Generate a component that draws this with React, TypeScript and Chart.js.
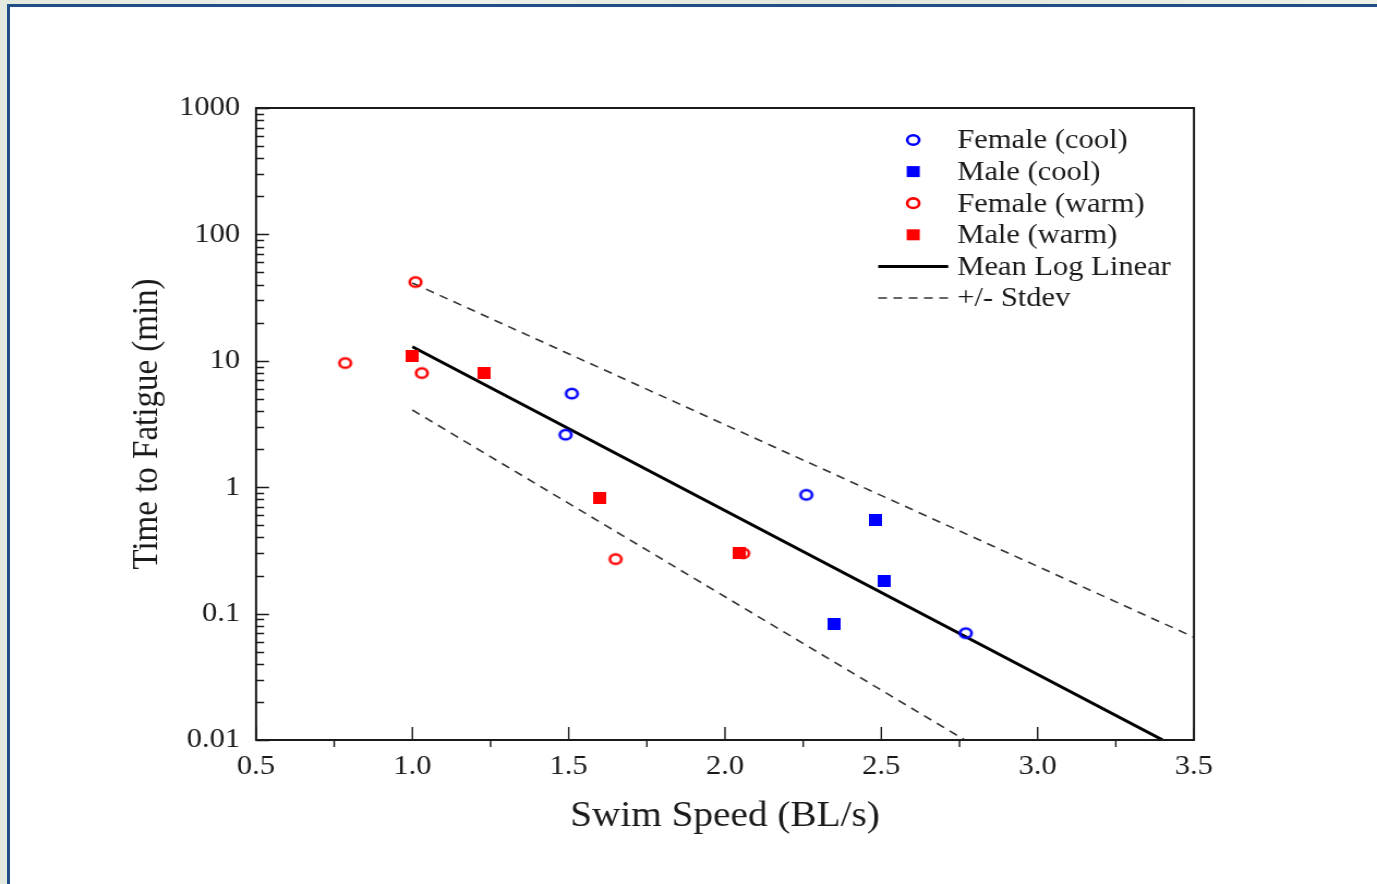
import React, { useEffect, useRef } from "react";
import { Chart, registerables } from "chart.js";

Chart.register(...registerables);

// ---- data ----
const femaleCoolX = [1.51, 1.49, 2.26, 2.77];
const femaleCoolY = [5.5, 2.6, 0.87, 0.07];
const maleCoolX = [2.48, 2.51, 2.35];
const maleCoolY = [0.55, 0.18, 0.083];
const femaleWarmX = [0.785, 1.01, 1.03, 1.65, 2.058];
const femaleWarmY = [9.6, 42, 8.0, 0.27, 0.3];
const maleWarmX = [1.0, 1.23, 1.6, 2.045];
const maleWarmY = [10.9, 8.0, 0.82, 0.3];
const meanLineX = [1.0, 3.4];
const meanLineY = [12.9, 0.01];
const upperLineX = [1.0, 3.5];
const upperLineY = [41.3, 0.065];
const lowerLineX = [1.0, 2.767];
const lowerLineY = [4.08, 0.01];

const seriesLabels = ["Female (cool)", "Male (cool)", "Female (warm)", "Male (warm)", "Mean Log Linear", "+/- Stdev"];

const xTickValues = [0.5, 1.0, 1.5, 2.0, 2.5, 3.0, 3.5];
const xTickLabels = ["0.5", "1.0", "1.5", "2.0", "2.5", "3.0", "3.5"];
const xMinorTicks = [0.75, 1.25, 1.75, 2.25, 2.75, 3.25];
const yTickValues = [0.01, 0.1, 1, 10, 100, 1000];
const yTickLabels = ["0.01", "0.1", "1", "10", "100", "1000"];
const yMinorMultipliers = [2, 3, 4, 5, 6, 7, 8, 9];

const BLUE = "#0000ff";
const RED = "#ff0000";
const FONT = "'Liberation Serif', 'DejaVu Serif', serif";

// the reference figure is slightly stretched horizontally
const STRETCH = 1.09;
const CW = Math.round(1377 / STRETCH);
const CH = 884;
const sx = (px: number) => px / STRETCH;

const zip = (xs: number[], ys: number[]) => xs.map((x, i) => ({ x, y: ys[i] }));

function ring(color: string, rx: number, ry: number, lw: number) {
  const c = document.createElement("canvas");
  c.width = Math.ceil(rx * 2 + lw + 2);
  c.height = Math.ceil(ry * 2 + lw + 2);
  const g = c.getContext("2d")!;
  g.strokeStyle = color;
  g.lineWidth = lw;
  g.beginPath();
  g.ellipse(c.width / 2, c.height / 2, rx, ry, 0, 0, Math.PI * 2);
  g.stroke();
  return c;
}
function block(color: string, w: number, h: number) {
  const c = document.createElement("canvas");
  c.width = w;
  c.height = h;
  const g = c.getContext("2d")!;
  g.fillStyle = color;
  g.fillRect(0, 0, w, h);
  return c;
}

const framePlugin = {
  id: "framePlugin",
  afterDraw(chart: any) {
    const { ctx, chartArea: a, scales } = chart;
    const xs = scales.x;
    const ys = scales.y;
    ctx.save();
    ctx.strokeStyle = "#1a1a1a";
    ctx.lineWidth = 2;
    ctx.strokeRect(a.left, a.top, a.right - a.left, a.bottom - a.top);
    ctx.lineWidth = 1.5;
    ctx.beginPath();
    yTickValues.forEach((v) => {
      const py = Math.round(ys.getPixelForValue(v)) + 0.5;
      ctx.moveTo(a.left, py);
      ctx.lineTo(a.left + sx(13), py);
    });
    yTickValues.slice(0, -1).forEach((d) => {
      yMinorMultipliers.forEach((m) => {
        const py = Math.round(ys.getPixelForValue(d * m)) + 0.5;
        ctx.moveTo(a.left, py);
        ctx.lineTo(a.left + sx(8), py);
      });
    });
    ctx.stroke();
    ctx.lineWidth = 1.4;
    ctx.beginPath();
    xTickValues.forEach((v) => {
      const px = xs.getPixelForValue(v);
      ctx.moveTo(px, a.bottom);
      ctx.lineTo(px, a.bottom - 13);
    });
    xMinorTicks.forEach((v) => {
      const px = xs.getPixelForValue(v);
      ctx.moveTo(px, a.bottom);
      ctx.lineTo(px, a.bottom + 7);
    });
    ctx.stroke();

    // legend
    const rowY0 = 140;
    const rowGap = 31.6;
    const markX = sx(913);
    const textX = sx(957);
    ctx.font = `28px ${FONT}`;
    ctx.textAlign = "left";
    ctx.textBaseline = "middle";
    chart.data.datasets.forEach((ds: any) => {
      if (ds.legendSkip) return;
      const y = rowY0 + ds.legendRow * rowGap;
      if (ds.legendKind === "ring") {
        ctx.strokeStyle = ds.legendColor;
        ctx.lineWidth = 2.6;
        ctx.beginPath();
        ctx.ellipse(markX, y, 5.5, 4.8, 0, 0, Math.PI * 2);
        ctx.stroke();
      } else if (ds.legendKind === "block") {
        ctx.fillStyle = ds.legendColor;
        ctx.fillRect(markX - 6, y - 5.5, 12, 11);
      } else {
        ctx.strokeStyle = ds.borderColor;
        ctx.lineWidth = ds.borderWidth;
        ctx.setLineDash(ds.borderDash || []);
        ctx.beginPath();
        ctx.moveTo(sx(878), y);
        ctx.lineTo(sx(948), y);
        ctx.stroke();
        ctx.setLineDash([]);
      }
      ctx.fillStyle = "#1a1a1a";
      ctx.fillText(ds.label, textX, y + 1);
    });
    ctx.restore();
  },
};

export default function App() {
  const ref = useRef<HTMLCanvasElement | null>(null);

  useEffect(() => {
    if (!ref.current) return;
    const ringBlue = ring(BLUE, 5.3, 4.8, 2.6);
    const ringRed = ring(RED, 5.3, 4.8, 2.6);
    const blockBlue = block(BLUE, 12, 12);
    const blockRed = block(RED, 12, 12);

    const chart = new Chart(ref.current, {
      type: "scatter",
      data: {
        datasets: [
          {
            label: seriesLabels[0],
            data: zip(femaleCoolX, femaleCoolY),
            pointStyle: ringBlue as any,
            legendKind: "ring", legendColor: BLUE, legendRow: 0,
          } as any,
          {
            label: seriesLabels[1],
            data: zip(maleCoolX, maleCoolY),
            pointStyle: blockBlue as any,
            legendKind: "block", legendColor: BLUE, legendRow: 1,
          } as any,
          {
            label: seriesLabels[2],
            data: zip(femaleWarmX, femaleWarmY),
            pointStyle: ringRed as any,
            legendKind: "ring", legendColor: RED, legendRow: 2,
          } as any,
          {
            label: seriesLabels[3],
            data: zip(maleWarmX, maleWarmY),
            pointStyle: blockRed as any,
            legendKind: "block", legendColor: RED, legendRow: 3,
          } as any,
          {
            label: seriesLabels[4],
            data: zip(meanLineX, meanLineY),
            showLine: true,
            pointRadius: 0,
            borderColor: "#000000",
            borderWidth: 3,
            legendKind: "line", legendRow: 4,
          } as any,
          {
            label: seriesLabels[5],
            data: zip(upperLineX, upperLineY),
            showLine: true,
            pointRadius: 0,
            borderColor: "#333333",
            borderWidth: 1.6,
            borderDash: [8, 6],
            legendKind: "line", legendRow: 5,
          } as any,
          {
            label: seriesLabels[5],
            data: zip(lowerLineX, lowerLineY),
            showLine: true,
            pointRadius: 0,
            borderColor: "#333333",
            borderWidth: 1.6,
            borderDash: [8, 6],
            legendSkip: true,
          } as any,
        ],
      },
      options: {
        responsive: false,
        animation: false,
        devicePixelRatio: 1,
        layout: { padding: { top: 108, right: sx(1377 - 1194), left: 0, bottom: 0 } },
        plugins: { legend: { display: false }, tooltip: { enabled: false } },
        scales: {
          x: {
            type: "linear",
            min: 0.5,
            max: 3.5,
            grid: { display: false, drawTicks: false },
            border: { display: false },
            afterBuildTicks: (s: any) => {
              s.ticks = xTickValues.map((v) => ({ value: v }));
            },
            afterFit: (s: any) => {
              s.height = 884 - 740;
            },
            ticks: {
              padding: 10,
              color: "#1a1a1a",
              font: { family: FONT, size: 28 },
              maxRotation: 0,
              callback: (v: any) => {
                const i = xTickValues.indexOf(Number(v));
                return i >= 0 ? xTickLabels[i] : "";
              },
            },
            title: {
              display: true,
              text: "Swim Speed (BL/s)",
              color: "#1a1a1a",
              font: { family: FONT, size: 36 },
              padding: { top: 0, bottom: 46 },
            },
          },
          y: {
            type: "logarithmic",
            min: 0.01,
            max: 1000,
            grid: { display: false, drawTicks: false },
            border: { display: false },
            afterBuildTicks: (s: any) => {
              s.ticks = yTickValues.map((v) => ({ value: v }));
            },
            afterFit: (s: any) => {
              s.width = sx(256);
            },
            ticks: {
              padding: sx(16),
              color: "#1a1a1a",
              font: { family: FONT, size: 28 },
              callback: (v: any) => {
                const i = yTickValues.findIndex((t) => Math.abs(t - Number(v)) / t < 1e-6);
                return i >= 0 ? yTickLabels[i] : "";
              },
            },
            title: {
              display: true,
              text: "Time to Fatigue (min)",
              color: "#1a1a1a",
              font: { family: FONT, size: 33 },
              padding: { top: sx(147) - 19.8, bottom: 0 },
            },
          },
        },
      },
      plugins: [framePlugin],
    } as any);
    return () => chart.destroy();
  }, []);

  return (
    <div
      style={{
        position: "absolute",
        left: 0,
        top: 0,
        width: 1377,
        height: 884,
        overflow: "hidden",
        background: "linear-gradient(90deg, #e4e9e0, #eef2ea 30%, #e2e8de 60%, #edf1e8)",
      }}
    >
      <div
        style={{
          position: "absolute",
          left: 7,
          top: 4,
          right: 0,
          bottom: 0,
          background: "#ffffff",
          borderLeft: "3px solid #1f4f86",
          borderTop: "3px solid #1f4f86",
        }}
      />
      <canvas
        ref={ref}
        width={CW}
        height={CH}
        style={{
          position: "absolute",
          left: 0,
          top: 0,
          width: CW,
          height: CH,
          transformOrigin: "0 0",
          transform: `scaleX(${1377 / CW})`,
        }}
      />
    </div>
  );
}
